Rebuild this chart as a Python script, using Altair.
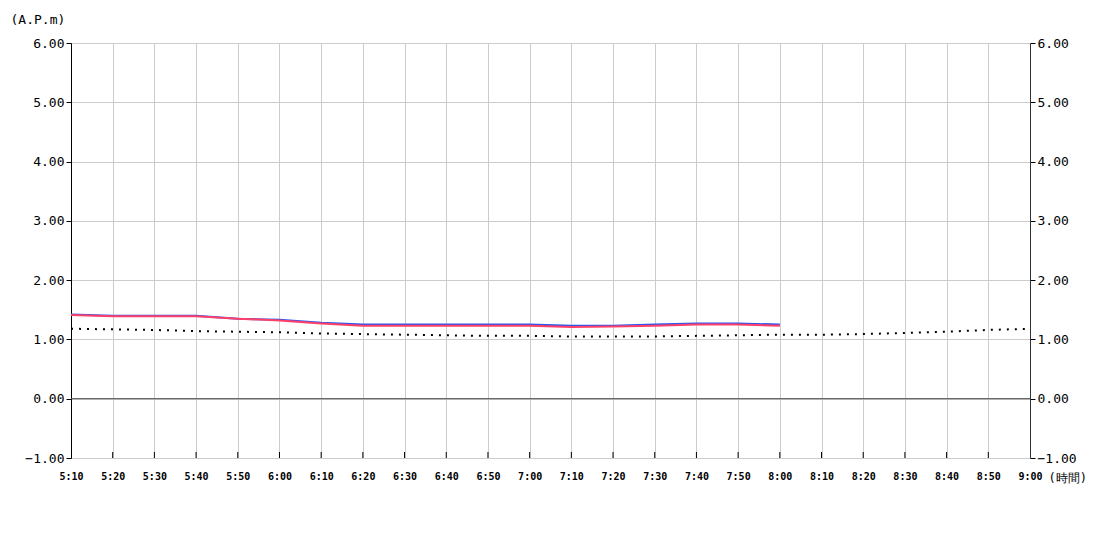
import altair as alt
import pandas as pd

times = ["5:10", "5:20", "5:30", "5:40", "5:50", "6:00", "6:10", "6:20", "6:30", "6:40",
         "6:50", "7:00", "7:10", "7:20", "7:30", "7:40", "7:50", "8:00", "8:10", "8:20",
         "8:30", "8:40", "8:50", "9:00"]
blue_vals = [1.42, 1.40, 1.40, 1.40, 1.35, 1.33, 1.28, 1.25, 1.25, 1.25, 1.25, 1.25,
             1.23, 1.23, 1.25, 1.27, 1.27, 1.25]
red_vals = [1.41, 1.39, 1.39, 1.39, 1.35, 1.32, 1.27, 1.23, 1.23, 1.23, 1.23, 1.23,
            1.21, 1.22, 1.23, 1.25, 1.25, 1.23]
dot_vals = [1.18, 1.17, 1.16, 1.14, 1.13, 1.12, 1.10, 1.09, 1.08, 1.07, 1.06, 1.06,
            1.05, 1.05, 1.05, 1.06, 1.07, 1.08, 1.08, 1.09, 1.11, 1.13, 1.16, 1.18]
y_ticks = [-1, 0, 1, 2, 3, 4, 5, 6]

FONT = "DejaVu Sans Mono"

blue_df = pd.DataFrame({"time": times[:len(blue_vals)], "v": blue_vals})
red_df = pd.DataFrame({"time": times[:len(red_vals)], "v": red_vals})
dot_df = pd.DataFrame({"time": times, "v": dot_vals})
tick_df = pd.DataFrame({"time": times[1:-1]})
zero_df = pd.DataFrame({"time": [times[0]], "z": [0]})

xscale = alt.Scale(type="point", padding=0, domain=times)
yscale = alt.Scale(domain=[-1, 6], nice=False, zero=False)

x_axis = alt.Axis(title="(時間)", titleAngle=0, titleAlign="left",
                  titleBaseline="middle", titleX=977, titleY=19,
                  titleFont=FONT, titleFontSize=12, titleFontWeight="normal",
                  titleColor="#000",
                  labelAngle=0, labelFont=FONT, labelFontSize=10, labelFontWeight="bold",
                  labelColor="#000", labelPadding=13, ticks=False, tickSize=0,
                  domain=False, grid=True, gridColor="#cccccc", gridWidth=1)


def xe():
    return alt.X("time:O", sort=times, scale=xscale, axis=x_axis)


left_axis = alt.Axis(values=y_ticks, format=".2f", title="(A.P.m)", titleAngle=0,
                     titleAlign="left", titleBaseline="middle", titleX=-61, titleY=-24,
                     titleFont=FONT, titleFontSize=13, titleFontWeight="normal",
                     titleColor="#000", labelFont=FONT, labelFontSize=13, labelColor="#000",
                     tickSize=5, tickColor="#000", labelPadding=2, domainColor="#000",
                     grid=True, gridColor="#cccccc", gridWidth=1)
right_axis = alt.Axis(values=y_ticks, format=".2f", title=None, orient="right",
                      labelFont=FONT, labelFontSize=13, labelColor="#000",
                      tickSize=5, tickColor="#000", labelPadding=2, domainColor="#333",
                      grid=False)

blue = alt.Chart(blue_df).mark_line(color="#2a55f0", strokeWidth=2).encode(
    x=xe(), y=alt.Y("v:Q", scale=yscale, axis=left_axis))
red = alt.Chart(red_df).mark_line(color="#ff4068", strokeWidth=2).encode(
    x=xe(), y=alt.Y("v:Q", scale=yscale, axis=None))
dots = alt.Chart(dot_df).mark_line(color="#000", strokeWidth=2, strokeDash=[2, 6]).encode(
    x=xe(), y=alt.Y("v:Q", scale=yscale, axis=right_axis))
zero = alt.Chart(zero_df).mark_rule(color="#444", strokeWidth=1).encode(
    y=alt.Y("z:Q", scale=yscale, axis=None))
xticks = alt.Chart(tick_df).mark_rule(color="#000", strokeWidth=1).encode(
    x=xe(), y=alt.value(409), y2=alt.value(415))

chart = alt.layer(blue, zero, xticks, red, dots).resolve_scale(
    y="independent").properties(
    width=959, height=415, autosize=alt.AutoSizeParams(type="none"),
    padding={"left": 63, "top": 35, "right": 62, "bottom": 45},
    background="white"
).configure_view(stroke=None)

chart.save("out.html", embed_options={"renderer": "svg", "actions": False})
